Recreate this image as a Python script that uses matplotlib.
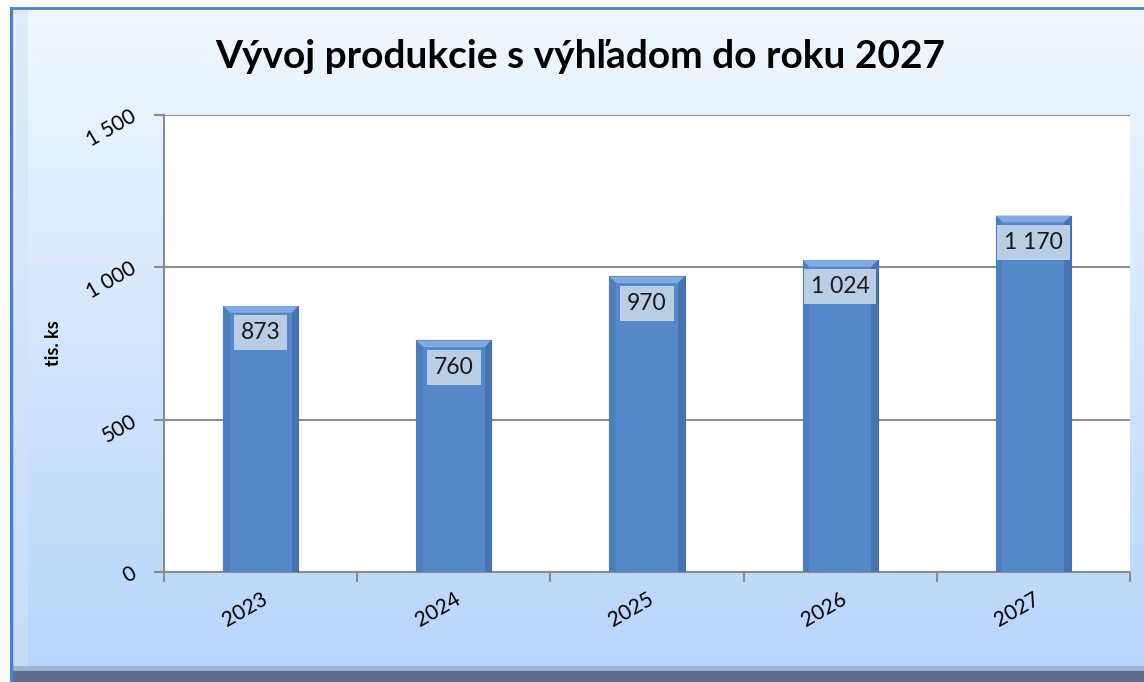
import matplotlib.pyplot as plt
import numpy as np
from matplotlib.patches import Polygon, Rectangle

years = ["2023", "2024", "2025", "2026", "2027"]
production = [873, 760, 970, 1024, 1170]
y_ticks = [0, 500, 1000, 1500]

title = "Vývoj produkcie s výhľadom do roku 2027"
y_label = "tis. ks"


def fmt(v):
    return f"{v:,}".replace(",", " ")


plt.rcParams["font.family"] = ["Lato", "DejaVu Sans"]

W, H = 1144, 682
fig = plt.figure(figsize=(W / 100, H / 100), dpi=100)
fig.patch.set_facecolor("white")

# gradient chart background inside the frame
bg = fig.add_axes([10 / W, 0, 1 - 10 / W, 1 - 7 / H], zorder=0)
grad = np.linspace(0, 1, 256).reshape(-1, 1)
top_c = np.array([0xf0, 0xf8, 0xfe]) / 255
bot_c = np.array([0xb6, 0xd4, 0xfb]) / 255
img = top_c + (bot_c - top_c) * grad
bg.imshow(img[:, None, :].repeat(2, axis=1), aspect="auto", extent=[0, 1, 0, 1], origin="upper")
bg.set_xlim(0, 1)
bg.set_ylim(0, 1)
bg.axis("off")
# frame edges
bg.plot([0.001, 0.001], [0, 1], color="#4f81bd", lw=2.5)
bg.plot([0, 1], [0.998, 0.998], color="#4f81bd", lw=2)
bg.add_patch(Rectangle((0.004, 0), 0.012, 1, color="#d5e3f5", lw=0, alpha=0.6))
bg.add_patch(Rectangle((0, 0), 1, 0.016, color="#5d6c87", lw=0))
bg.add_patch(Rectangle((0, 0.016), 1, 0.008, color="#8da3c4", lw=0, alpha=0.7))

ax = fig.add_axes([164 / W, 1 - 572 / H, (1130 - 164) / W, (572 - 115) / H], zorder=2)
ax.set_facecolor("white")

x = np.arange(len(years))
bw = 0.39
ax.bar(x, production, width=bw, color="#5588c8", edgecolor="#3f6ea8", lw=0.8, zorder=3)

# bevel shading on bars
bx, by = 0.035, 22
for xi, v in zip(x, production):
    l, r = xi - bw / 2, xi + bw / 2
    ax.add_patch(Polygon([(l, v), (r, v), (r - bx, v - by), (l + bx, v - by)],
                         closed=True, color="#80aae0", lw=0, zorder=4))
    ax.add_patch(Polygon([(r, v), (r, 0), (r - bx, 0), (r - bx, v - by)],
                         closed=True, color="#4674b0", lw=0, zorder=4))
    ax.add_patch(Polygon([(l, v), (l, 0), (l + bx, 0), (l + bx, v - by)],
                         closed=True, color="#4d7fbe", lw=0, zorder=4))
    ax.text(xi, v - 88, fmt(v), ha="center", va="center", fontsize=16.5,
            color="#1a1a1a", zorder=5,
            bbox=dict(boxstyle="square,pad=0.3", facecolor="#b9cde5", edgecolor="none"))

ax.set_xlim(-0.5, len(years) - 0.5)
ax.set_ylim(0, 1500)
ax.set_yticks(y_ticks)
ax.set_yticklabels([fmt(t) for t in y_ticks], rotation=30, fontsize=15,
                   ha="right", va="center", rotation_mode="anchor")
ax.yaxis.grid(True, color="#8c8c8c", lw=1.5, zorder=1)
ax.set_axisbelow(True)

ax.set_xticks(x)
ax.set_xticklabels(years, rotation=30, fontsize=15, ha="right", va="top",
                   rotation_mode="anchor")
ax.set_xticks(np.arange(len(years) + 1) - 0.5, minor=True)
ax.tick_params(axis="x", which="major", length=0, pad=12)
ax.tick_params(axis="x", which="minor", length=7, width=1.5, color="#8c8c8c")
ax.tick_params(axis="y", length=7, width=1.5, color="#8c8c8c", pad=14)

for s in ["top", "right"]:
    ax.spines[s].set_visible(False)
for s in ["left", "bottom"]:
    ax.spines[s].set_color("#8c8c8c")
    ax.spines[s].set_linewidth(1.5)

ax.set_ylabel(y_label, fontsize=13, fontweight="bold")
ax.yaxis.set_label_coords((62 - 164) / (1130 - 164), 0.5)

fig.text(580 / W, 1 - 56 / H, title, ha="center", va="center",
         fontsize=28, fontweight="bold", color="black", zorder=5)

fig.savefig("out.png", dpi=100)
